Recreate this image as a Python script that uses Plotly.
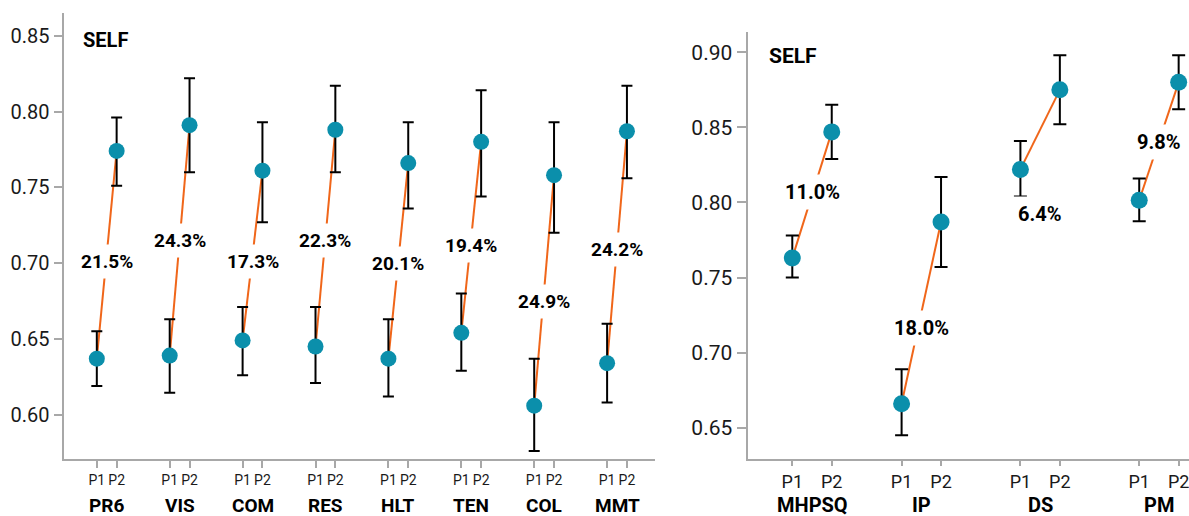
import plotly.graph_objects as go

# ---------------- data: left panel ----------------
groups_left = ["PR6", "VIS", "COM", "RES", "HLT", "TEN", "COL", "MMT"]
p1_left = [0.637, 0.639, 0.649, 0.645, 0.637, 0.654, 0.606, 0.634]
p1_left_hi = [0.655, 0.663, 0.671, 0.671, 0.663, 0.680, 0.637, 0.660]
p1_left_lo = [0.619, 0.6145, 0.626, 0.621, 0.612, 0.629, 0.576, 0.608]
p2_left = [0.774, 0.791, 0.761, 0.788, 0.766, 0.780, 0.758, 0.787]
p2_left_hi = [0.796, 0.822, 0.793, 0.817, 0.793, 0.814, 0.793, 0.817]
p2_left_lo = [0.751, 0.760, 0.727, 0.760, 0.736, 0.744, 0.720, 0.756]
pct_left = ["21.5%", "24.3%", "17.3%", "22.3%", "20.1%", "19.4%", "24.9%", "24.2%"]
pct_left_at = [0.7011, 0.7148, 0.7008, 0.7148, 0.7000, 0.7118, 0.6744, 0.7087]

# ---------------- data: right panel ----------------
groups_right = ["MHPSQ", "IP", "DS", "PM"]
p1_right = [0.763, 0.666, 0.822, 0.8015]
p1_right_hi = [0.778, 0.689, 0.841, 0.816]
p1_right_lo = [0.750, 0.645, 0.804, 0.7875]
p2_right = [0.847, 0.787, 0.875, 0.880]
p2_right_hi = [0.865, 0.817, 0.898, 0.898]
p2_right_lo = [0.829, 0.757, 0.852, 0.862]
pct_right = ["11.0%", "18.0%", "6.4%", "9.8%"]
pct_right_at = [0.8068, 0.7163, 0.7923, 0.8400]

period_labels = ["P1", "P2"]
panel_title = "SELF"

# ---------------- styling ----------------
TEAL = "#0B8FAB"
ORANGE = "#F0661A"
AXIS = "#A8A8A8"
FONT = "Roboto"

# layout positions (axis units)
left_centers = list(range(len(groups_left)))
left_off = 0.136
right_centers = [0.08, 1, 2, 3]
right_off = 0.166

fig = go.Figure()


def add_panel(centers, off, p1, p1hi, p1lo, p2, p2hi, p2lo, xa, ya, msize, capw):
    lx, ly = [], []
    for c, a, b in zip(centers, p1, p2):
        lx += [c - off, c + off, None]
        ly += [a, b, None]
    fig.add_trace(go.Scatter(x=lx, y=ly, mode="lines", xaxis=xa, yaxis=ya,
                             line=dict(color=ORANGE, width=2), hoverinfo="skip",
                             showlegend=False))
    xs, ys, up, dn = [], [], [], []
    for c, a, ah, al, b, bh, bl in zip(centers, p1, p1hi, p1lo, p2, p2hi, p2lo):
        xs += [c - off, c + off]
        ys += [a, b]
        up += [ah - a, bh - b]
        dn += [a - al, b - bl]
    fig.add_trace(go.Scatter(x=xs, y=ys, mode="markers", xaxis=xa, yaxis=ya,
                             marker=dict(color=TEAL, size=msize),
                             error_y=dict(type="data", symmetric=False, array=up,
                                          arrayminus=dn, color="black",
                                          thickness=2, width=capw),
                             showlegend=False))


add_panel(left_centers, left_off, p1_left, p1_left_hi, p1_left_lo,
          p2_left, p2_left_hi, p2_left_lo, "x", "y", 16, 5.5)
add_panel(right_centers, right_off, p1_right, p1_right_hi, p1_right_lo,
          p2_right, p2_right_hi, p2_right_lo, "x2", "y2", 17, 6.5)

annotations = []
for c, t, yv in zip(left_centers, pct_left, pct_left_at):
    annotations.append(dict(x=c, y=yv, xref="x", yref="y", text="<b>%s</b>" % t,
                            showarrow=False, bgcolor="white", borderpad=5,
                            font=dict(family=FONT, size=19, color="black")))
for c, t, yv in zip(right_centers, pct_right, pct_right_at):
    annotations.append(dict(x=c, y=yv, xref="x2", yref="y2", text="<b>%s</b>" % t,
                            showarrow=False, bgcolor="white", borderpad=5,
                            font=dict(family=FONT, size=20, color="black")))
for c, g in zip(left_centers, groups_left):
    annotations.append(dict(x=c, y=0.0213, xref="x", yref="paper", text="<b>%s</b>" % g,
                            showarrow=False, yanchor="middle",
                            font=dict(family=FONT, size=19, color="black")))
for c, g in zip(right_centers, groups_right):
    annotations.append(dict(x=c, y=0.0215, xref="x2", yref="paper", text="<b>%s</b>" % g,
                            showarrow=False, yanchor="middle",
                            font=dict(family=FONT, size=20, color="black")))
annotations.append(dict(x=81 / 1189, y=0.923, xref="paper", yref="paper",
                        text="<b>%s</b>" % panel_title, showarrow=False,
                        xanchor="left", yanchor="middle",
                        font=dict(family=FONT, size=20, color="black")))
annotations.append(dict(x=767 / 1189, y=0.892, xref="paper", yref="paper",
                        text="<b>%s</b>" % panel_title, showarrow=False,
                        xanchor="left", yanchor="middle",
                        font=dict(family=FONT, size=21, color="black")))

left_tickvals, left_ticktext = [], []
for c in left_centers:
    left_tickvals += [c - left_off, c + left_off]
    left_ticktext += period_labels
right_tickvals, right_ticktext = [], []
for c in right_centers:
    right_tickvals += [c - right_off, c + right_off]
    right_ticktext += period_labels

common_axis = dict(showgrid=False, zeroline=False, showline=True, linecolor=AXIS,
                   linewidth=2, ticks="outside", tickcolor=AXIS, tickwidth=1.5,
                   ticklabeloverflow="allow")

fig.update_layout(
    width=1189, height=516,
    margin=dict(l=0, r=0, t=0, b=0),
    paper_bgcolor="white", plot_bgcolor="white",
    font=dict(family=FONT, color="black"),
    showlegend=False,
    annotations=annotations,
    xaxis=dict(domain=[63.5 / 1189, 655 / 1189], range=[-0.593, 7.521],
               tickmode="array", tickvals=left_tickvals, ticktext=left_ticktext,
               ticklen=7, tickfont=dict(size=14, color="#1a1a1a"), anchor="y",
               **common_axis),
    yaxis=dict(domain=[57 / 516, 503 / 516], range=[0.5708, 0.865],
               tickmode="array", tickvals=[0.60, 0.65, 0.70, 0.75, 0.80, 0.85],
               tickformat=".2f", ticklen=8, tickfont=dict(size=20, color="#1a1a1a"),
               anchor="x", **common_axis),
    xaxis2=dict(domain=[747.5 / 1189, 1.0], range=[-0.463, 3.253],
                tickmode="array", tickvals=right_tickvals, ticktext=right_ticktext,
                ticklen=5, tickfont=dict(size=18, color="#1a1a1a"), anchor="y2",
                **common_axis),
    yaxis2=dict(domain=[57 / 516, 484 / 516], range=[0.6292, 0.9135],
                tickmode="array", tickvals=[0.65, 0.70, 0.75, 0.80, 0.85, 0.90],
                tickformat=".2f", ticklen=9, tickfont=dict(size=21, color="#1a1a1a"),
                anchor="x2", **common_axis),
)

fig.write_html(
    "out.html",
    config={"displayModeBar": False},
    post_script="document.body.style.margin='0';document.body.style.overflow='hidden';",
)
